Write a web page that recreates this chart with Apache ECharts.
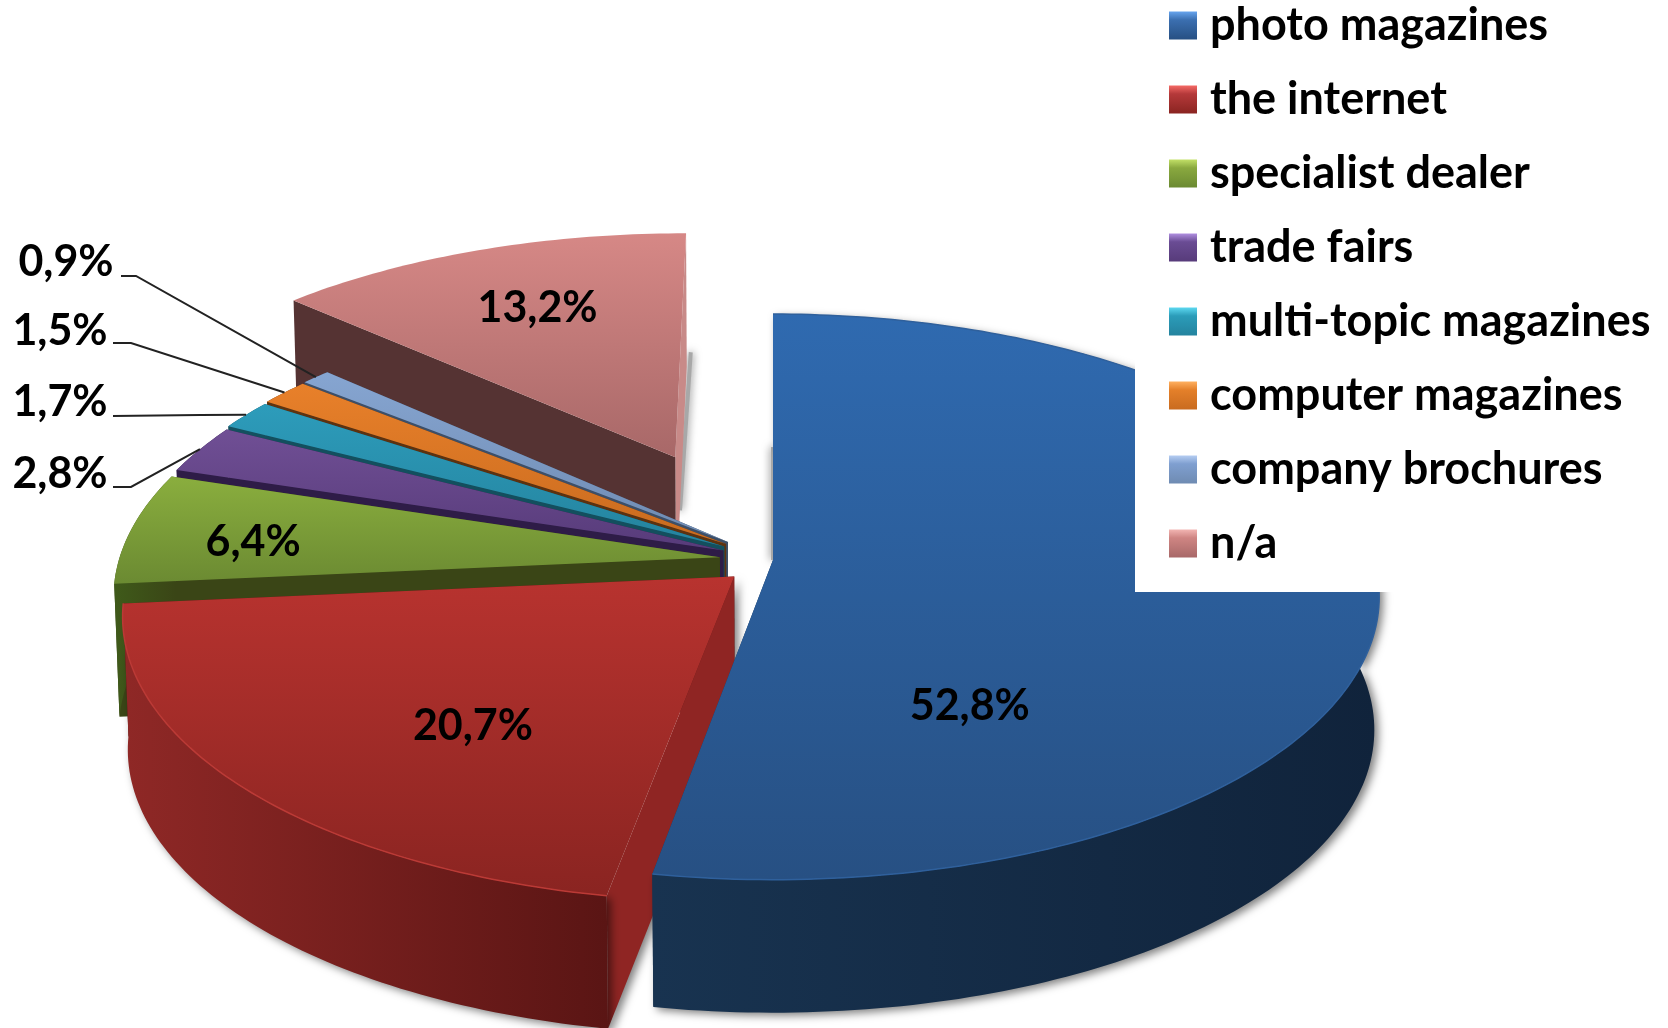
<!DOCTYPE html>
<html><head><meta charset="utf-8">
<style>html,body{margin:0;padding:0;background:#fff}#c{width:1668px;height:1028px}</style>
<script src="https://cdn.jsdelivr.net/npm/echarts@6/dist/echarts.min.js"></script>
</head><body><div id="c"></div>
<script>
// ---- data ----
const categories = ['photo magazines','the internet','specialist dealer','trade fairs','multi-topic magazines','computer magazines','company brochures','n/a'];
const values = [52.8,20.7,6.4,2.8,1.7,1.5,0.9,13.2];
// ---- how far each slice is pulled out of the pie (radius fractions) ----
const explode = [0,0.087,0.089,0.09,0.095,0.098,0.1,0.424];
// ---- styling ----
const topLight = ['#2f6ab0','#b8332f','#8aae3e','#704f95','#2d9cbb','#e8802a','#86a5d1','#d68886'];
const topDark  = ['#275083','#8a2421','#6b8a32','#573b7a','#24839e','#c96b1f','#6f8bb2','#a86868'];
const wallLeft = ['#183350','#8f2826','#3f5a1a','#2e1c47','#14505f','#5f3410','#3d4f68','#553333'];
const wallRight= ['#10233b','#5a1514','#3a4516','#2e1c47','#14505f','#5f3410','#3d4f68','#553333'];
const startFace= ['#2f6ab0','#8f2523','#3a4516','#2e1c47','#134f5e','#5c3210','#3d4f68','#553333'];
const endFace  = ['#1a3657','#5a1514','#3a4516','#2e1c47','#134f5e','#5c3210','#3d4f68','#c88a88'];
const swatch   = ['#3b6fb0','#b5393a','#8aa93f','#6a4c94','#2b9cb9','#e4802a','#7f9fd0','#cf8583'];
const swatchHi = ['#66a4ee','#f56a66','#c2e067','#b08fe0','#5cd8f0','#ffb060','#b5cdf2','#f2b5b2'];
// ---- layout ----
const FONT = 'Lato';
const CX = 773, CY = 560, RX = 601, RY = 278, K = 0.1304, THICK = 133, SHRINK = 0.992;
const valueLabelAt = {0:[147.7,0.574],1:[219.3,0.631],2:[274.5,0.787],7:[337.1,0.704]};
const sideLabelAt  = {6:[[66,262],[121,276],[136,276]],5:[[60,331],[113,343],[131,343]],4:[[60,402],[113,416],[200,415]],3:[[60,474],[113,487],[131,487]]};
const drawOrder = [7,6,5,4,3,2,1,0];
const LABEL_NUDGE_Y = 2;

const total = values.reduce((a,b)=>a+b,0);
function project(u,v){const w=1-K*v;return [CX+RX*u/w, CY+RY*v/w];}
function drop(p){return [CX+(p[0]-CX)*SHRINK, p[1]+THICK];}
function startDeg(i){let s=0;for(let j=0;j<i;j++)s+=values[j];return s/total*360;}
function polar(a,r,ox,oy){const t=a*Math.PI/180;return project(Math.sin(t)*r+ox,-Math.cos(t)*r+oy);}
function vGrad(a,b){return new echarts.graphic.LinearGradient(0,0,0,1,[{offset:0,color:a},{offset:1,color:b}]);}
function hGrad(a,b){return new echarts.graphic.LinearGradient(0,0,1,0,[{offset:0,color:a},{offset:1,color:b}]);}
const label=i=>values[i].toFixed(1).replace('.',',')+'%';
const SHADOW={shadowBlur:9,shadowColor:'rgba(0,0,0,0.5)',shadowOffsetX:4,shadowOffsetY:3};
const EDGE_SHADOW={shadowBlur:8,shadowColor:'rgba(0,0,0,0.6)',shadowOffsetX:0,shadowOffsetY:0,fill:null,stroke:'#a8a8a8',lineWidth:4};

function renderSlice(i,api){
  const val=api.value(0), a0=startDeg(i), a1=a0+val/total*360, mid=(a0+a1)/2;
  const t=mid*Math.PI/180, ox=Math.sin(t)*explode[i], oy=-Math.cos(t)*explode[i];
  const apex=project(ox,oy), arc=[], n=Math.max(6,Math.ceil(a1-a0));
  for(let k=0;k<=n;k++)arc.push(polar(a0+(a1-a0)*k/n,1,ox,oy));
  const last=arc[arc.length-1], dropArc=arc.map(drop).reverse();
  const kids=[];
  const withShadow=(i===0||i===1);
  if(i===7)kids.push({type:'polyline',silent:true,shape:{points:[[drop(last)[0]+4,drop(last)[1]-14],[drop(apex)[0]+4,drop(apex)[1]-80]]},style:EDGE_SHADOW});
  if(i===0)kids.push({type:'polyline',silent:true,shape:{points:[drop(arc[0]),apex]},style:EDGE_SHADOW});
  kids.push({type:'polygon',silent:true,shape:{points:[apex,last,drop(last),drop(apex)]},style:{fill:endFace[i]}});
  if(i!==0)kids.push({type:'polygon',silent:true,shape:{points:[apex,arc[0],drop(arc[0]),drop(apex)]},
    style:Object.assign({fill:startFace[i]},i===1?SHADOW:{})});
  if(i!==7)kids.push({type:'polygon',silent:true,shape:{points:arc.concat(dropArc)},
    style:Object.assign({fill:hGrad(wallLeft[i],wallRight[i])},withShadow?SHADOW:{})});
  kids.push({type:'polygon',silent:true,shape:{points:[apex].concat(arc)},style:{fill:vGrad(topLight[i],topDark[i])}});
  if(withShadow)kids.push({type:'polyline',silent:true,shape:{points:arc},style:{fill:null,stroke:i===1?'#bb3a36':'#2f609c',lineWidth:1.5}});
  if(valueLabelAt[i]){
    const [la,lr]=valueLabelAt[i], p=polar(la,lr,ox,oy);
    kids.push({type:'text',silent:true,z2:10,style:{text:label(i),x:p[0],y:p[1]+LABEL_NUDGE_Y,align:'center',verticalAlign:'middle',font:'bold 43px '+FONT,fill:'#000'}});
  }
  if(sideLabelAt[i]){
    const [pos,e1,e2]=sideLabelAt[i], end=polar(mid,1,ox,oy);
    kids.push({type:'polyline',silent:true,z2:10,shape:{points:[e1,e2,end]},style:{fill:null,stroke:'#222',lineWidth:2}});
    kids.push({type:'text',silent:true,z2:10,style:{text:label(i),x:pos[0],y:pos[1],align:'center',verticalAlign:'middle',font:'bold 43px '+FONT,fill:'#000'}});
  }
  return {type:'group',children:kids};
}

const chart=echarts.init(document.getElementById('c'),null,{renderer:'canvas'});
chart.setOption({
  animation:false,
  backgroundColor:'#fff',
  legend:{
    orient:'vertical',left:1135,top:0,padding:[3,70,26,34],backgroundColor:'#fff',
    itemWidth:28,itemHeight:28,itemGap:29,icon:'rect',selectedMode:false,
    textStyle:{fontFamily:FONT,fontWeight:'bold',fontSize:45,color:'#000',padding:[0,0,0,8]},
    data:categories.map((c,i)=>({name:c,icon:'rect',itemStyle:{borderWidth:0,color:new echarts.graphic.LinearGradient(0,0,0,1,[{offset:0,color:swatchHi[i]},{offset:0.3,color:swatch[i]},{offset:1,color:topDark[i]}])}}))
  },
  series:drawOrder.map(i=>({
    type:'custom',name:categories[i],coordinateSystem:'none',silent:true,
    data:[[values[i]]],
    itemStyle:{color:swatch[i]},
    renderItem:(params,api)=>renderSlice(i,api)
  }))
});
</script></body></html>
